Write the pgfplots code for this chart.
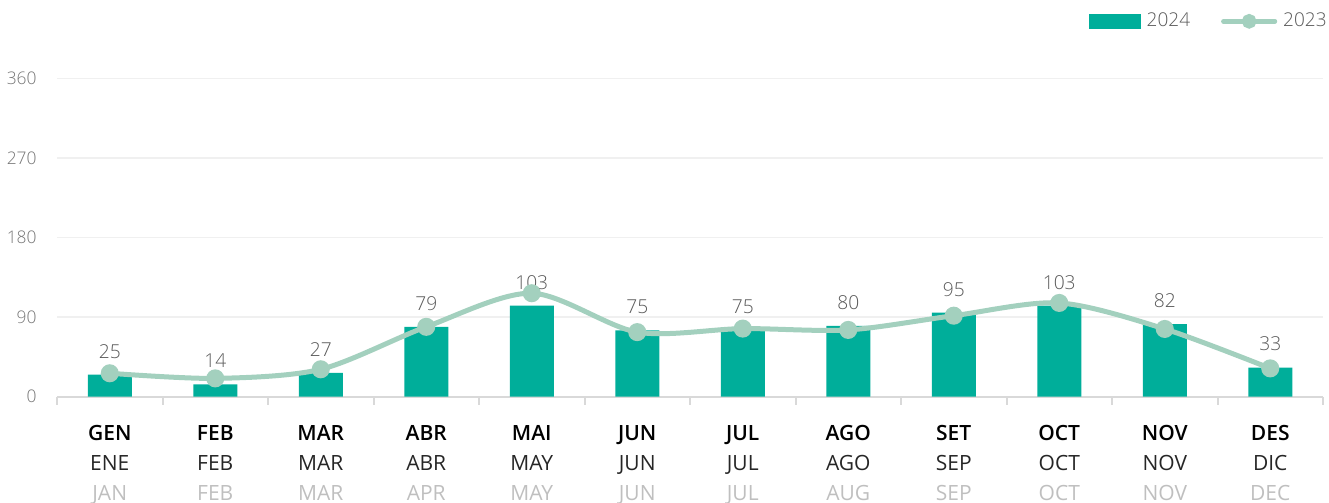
\documentclass[border=0pt]{standalone}
\usepackage{fontspec}
\setmainfont{Open Sans}
\newfontfamily\oslight{OpenSans-Light.ttf}
\newfontfamily\ossemi{OpenSans-Semibold.ttf}
\usepackage{pgfplots}
\usepackage{pgfplotstable}
\pgfplotsset{compat=1.18}

\definecolor{bar24}{RGB}{0,174,154}
\definecolor{line23}{RGB}{163,208,190}
\definecolor{tickgray}{RGB}{118,118,118}
\definecolor{labgray}{RGB}{89,89,89}
\definecolor{mon2}{RGB}{38,38,38}
\definecolor{mon3}{RGB}{191,191,191}
\definecolor{gridc}{RGB}{240,240,240}
\definecolor{axisc}{RGB}{217,217,217}

% monthly values: 2024 (bars) and 2023 (line)
\pgfplotstableread{
x  v24  v23
0  25   26.5
1  14   20.7
2  27   31
3  79   79
4  103  117
5  75   73
6  75   77
7  80   75.5
8  95   91.6
9  103  106
10 82   76.6
11 33   32
}\monthly

\begin{document}
\begin{tikzpicture}
\begin{axis}[
  scale only axis,
  width=633pt, height=159.2pt,
  xmin=-0.5, xmax=11.5, ymin=0, ymax=360,
  axis x line*=bottom, axis y line*=left,
  x axis line style={color=axisc, line width=1pt, -},
  y axis line style={draw=none},
  ytick={0,90,...,360},
  ymajorgrids,
  major grid style={color=gridc, line width=0.75pt},
  major tick length=0pt,
  ytick style={draw=none},
  yticklabel style={font=\oslight\fontsize{8.7}{10}\selectfont, text=tickgray,
    anchor=east, inner sep=0pt, xshift=-10pt},
  xtick={0,...,11},
  xticklabels={
    {{\ossemi GEN}\\\textcolor{mon2}{ENE}\\\textcolor{mon3}{JAN}},
    {{\ossemi FEB}\\\textcolor{mon2}{FEB}\\\textcolor{mon3}{FEB}},
    {{\ossemi MAR}\\\textcolor{mon2}{MAR}\\\textcolor{mon3}{MAR}},
    {{\ossemi ABR}\\\textcolor{mon2}{ABR}\\\textcolor{mon3}{APR}},
    {{\ossemi MAI}\\\textcolor{mon2}{MAY}\\\textcolor{mon3}{MAY}},
    {{\ossemi JUN}\\\textcolor{mon2}{JUN}\\\textcolor{mon3}{JUN}},
    {{\ossemi JUL}\\\textcolor{mon2}{JUL}\\\textcolor{mon3}{JUL}},
    {{\ossemi AGO}\\\textcolor{mon2}{AGO}\\\textcolor{mon3}{AUG}},
    {{\ossemi SET}\\\textcolor{mon2}{SEP}\\\textcolor{mon3}{SEP}},
    {{\ossemi OCT}\\\textcolor{mon2}{OCT}\\\textcolor{mon3}{OCT}},
    {{\ossemi NOV}\\\textcolor{mon2}{NOV}\\\textcolor{mon3}{NOV}},
    {{\ossemi DES}\\\textcolor{mon2}{DIC}\\\textcolor{mon3}{DEC}}},
  major x tick style={draw=none},
  minor xtick={-0.5,0.5,...,11.5},
  minor x tick style={color=axisc, line width=1pt},
  minor tick length=4pt,
  tick align=outside,
  xticklabel style={font=\fontsize{10.5}{15}\selectfont, text=black,
    align=center, anchor=north, inner sep=0pt, yshift=-14pt},
  /pgf/number format/assume math mode=true,
  legend columns=2,
  legend style={at={(rel axis cs:1,1)}, anchor=east, xshift=2pt, yshift=28.5pt,
    draw=none, fill=none, inner sep=0pt,
    font=\oslight\fontsize{9.5}{11}\selectfont, text=labgray,
    nodes={inner sep=0pt},
    /tikz/every odd column/.append style={column sep=3pt},
    /tikz/every even column/.append style={column sep=15.5pt}},
  clip=false,
]
\addplot[ybar, bar width=22pt, bar shift=0pt, fill=bar24, draw=none,
  nodes near coords, point meta=\thisrow{v24},
  nodes near coords style={font=\oslight\fontsize{9.6}{11}\selectfont, text=labgray,
    inner sep=0pt, anchor=south, yshift=8pt},
  legend image code/.code={\fill[bar24] (0pt,-3.75pt) rectangle (26pt,3.75pt);}]
  table[x=x, y=v24] {\monthly};
\addlegendentry{2024}
\addplot[smooth, color=line23, line width=2.5pt, line cap=round,
  mark=*, mark size=3.25pt, mark options={fill=line23, draw=none},
  legend image code/.code={
    \draw[line23, line width=2.25pt, line cap=round] (1.1pt,0pt) -- (26.9pt,0pt);
    \fill[line23] (14pt,0pt) circle (2.4pt);}]
  table[x=x, y=v23] {\monthly};
\addlegendentry{2023}
\end{axis}
\pgfresetboundingbox
\path[use as bounding box]
  ([shift={(-28.5pt,-53.15pt)}]current axis.south west)
  rectangle ([shift={(3pt,39.15pt)}]current axis.north east);
\end{tikzpicture}
\end{document}
